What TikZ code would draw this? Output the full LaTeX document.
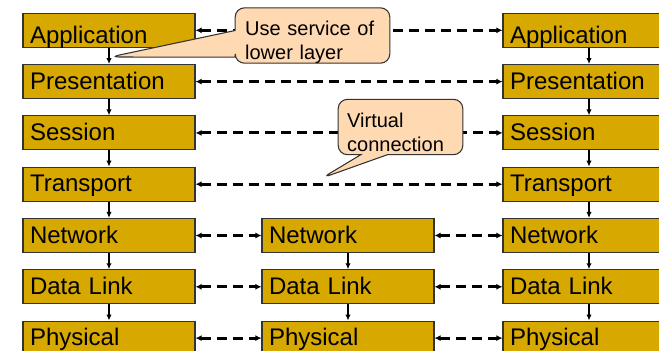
\documentclass[tikz,border=0pt]{standalone}
\usepackage{fontspec}
\setmainfont{Liberation Sans}
\usetikzlibrary{arrows.meta,shapes.callouts}
\definecolor{layergold}{RGB}{214,168,0}
\definecolor{notepeach}{RGB}{255,217,178}

\begin{document}
\begin{tikzpicture}[x=0.75pt,y=-0.75pt,
  layer/.style={draw=black!80,fill=layergold,line width=0.8pt,
    minimum width=129pt,minimum height=25.5pt,inner xsep=5.25pt,inner ysep=0pt,
    text width=118.5pt,align=left,text height=11.6pt,text depth=0pt,
    font=\fontsize{18}{21.6}\selectfont},
  lowtext/.style={text height=19.5pt},
  down/.style={-{Latex[length=4.5pt,width=4pt]},line width=1.1pt},
  peer/.style={{Latex[length=4.5pt,width=4.5pt]}-{Latex[length=4.5pt,width=4.5pt]},
    line width=2.3pt,dash pattern=on 7.5pt off 4.5pt},
  note/.style={rectangle callout,draw=black!80,fill=notepeach,line width=0.8pt,
    rounded corners=7pt,align=left,inner ysep=0pt,callout pointer width=20pt,
    text height=21pt,text depth=20.5pt,
    font=\fontsize{15}{18}\selectfont}]
\useasboundingbox (0,0) rectangle (659,350);
\clip (0,0) rectangle (659,350);
% left stack
\node[layer,lowtext] (lapp) at (109,30.3) {Application};
\node[layer] (lpre) at (109,81.6) {Presentation};
\node[layer] (lses) at (109,132.9) {Session};
\node[layer] (ltra) at (109,184.2) {Transport};
\node[layer] (lnet) at (109,235.5) {Network};
\node[layer] (ldat) at (109,286.8) {Data Link};
\node[layer] (lphy) at (109,338.1) {Physical};
% middle stack
\node[layer] (mnet) at (348,235.5) {Network};
\node[layer] (mdat) at (348,286.8) {Data Link};
\node[layer] (mphy) at (348,338.1) {Physical};
% right stack
\node[layer,lowtext] (rapp) at (589,30.3) {Application};
\node[layer] (rpre) at (589,81.6) {Presentation};
\node[layer] (rses) at (589,132.9) {Session};
\node[layer] (rtra) at (589,184.2) {Transport};
\node[layer] (rnet) at (589,235.5) {Network};
\node[layer] (rdat) at (589,286.8) {Data Link};
\node[layer] (rphy) at (589,338.1) {Physical};
% downward arrows
\draw[down] (lapp) -- (lpre);
\draw[down] (lpre) -- (lses);
\draw[down] (lses) -- (ltra);
\draw[down] (ltra) -- (lnet);
\draw[down] (lnet) -- (ldat);
\draw[down] (ldat) -- (lphy);
\draw[down] (mnet) -- (mdat);
\draw[down] (mdat) -- (mphy);
\draw[down] (rapp) -- (rpre);
\draw[down] (rpre) -- (rses);
\draw[down] (rses) -- (rtra);
\draw[down] (rtra) -- (rnet);
\draw[down] (rnet) -- (rdat);
\draw[down] (rdat) -- (rphy);
% peer connections
\draw[peer] (lapp) -- (rapp);
\draw[peer] (lpre) -- (rpre);
\draw[peer] (lses) -- (rses);
\draw[peer] (ltra) -- (rtra);
\draw[peer] (lnet) -- (mnet);
\draw[peer] (mnet) -- (rnet);
\draw[peer] (ldat) -- (mdat);
\draw[peer] (mdat) -- (rdat);
\draw[peer] (lphy) -- (mphy);
\draw[peer] (mphy) -- (rphy);
% notes
\node[note,inner xsep=7.5pt,text width=101pt,
  callout absolute pointer={(110,57)}] (svcnote) at (312.5,35.5)
  {Use service of\\lower layer};
\node[note,inner xsep=6.75pt,text width=80pt,
  callout absolute pointer={(322,178)}] (vcnote) at (400.5,127)
  {Virtual\\connection};
\end{tikzpicture}
\end{document}
